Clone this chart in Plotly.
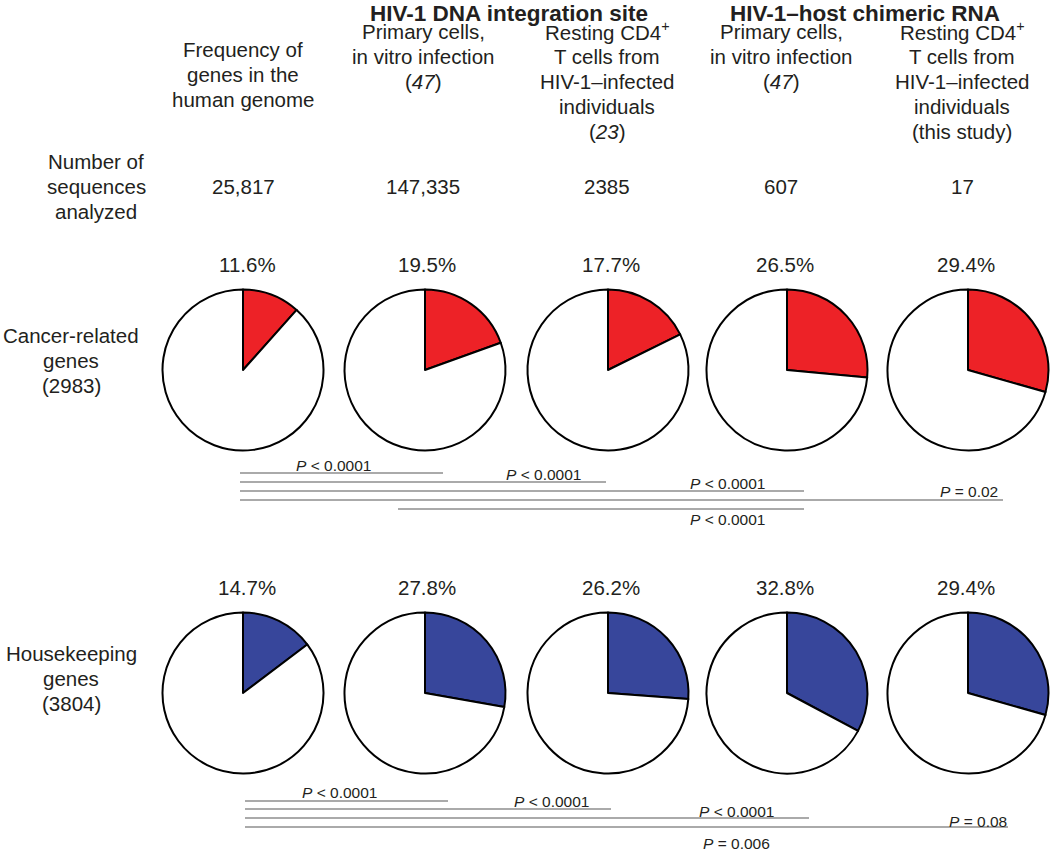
import plotly.graph_objects as go

# ---------------- data ----------------
column_labels = [
    "Frequency of<br>genes in the<br>human genome",
    "Primary cells,<br>in vitro infection<br>(<i>47</i>)",
    "Resting CD4<sup>+</sup><br>T cells from<br>HIV-1–infected<br>individuals<br>(<i>23</i>)",
    "Primary cells,<br>in vitro infection<br>(<i>47</i>)",
    "Resting CD4<sup>+</sup><br>T cells from<br>HIV-1–infected<br>individuals<br>(this study)",
]
group_labels = ["HIV-1 DNA integration site", "HIV-1–host chimeric RNA"]
n_sequences = ["25,817", "147,335", "2385", "607", "17"]
n_label = "Number of<br>sequences<br>analyzed"
row_labels = ["Cancer-related<br>genes<br>(2983)", "Housekeeping<br>genes<br>(3804)"]
cancer_pct = [11.6, 19.5, 17.7, 26.5, 29.4]
housekeeping_pct = [14.7, 27.8, 26.2, 32.8, 29.4]
cancer_p = ["< 0.0001", "< 0.0001", "< 0.0001", "= 0.02", "< 0.0001"]
housekeeping_p = ["< 0.0001", "< 0.0001", "< 0.0001", "= 0.08", "= 0.006"]
comparisons = [(0, 1), (0, 2), (0, 3), (0, 4), (1, 3)]
housekeeping_drawn = [True, True, True, True, False]

# ---------------- layout constants ----------------
W, H = 1050, 852
FONT = "Liberation Sans, Arial, Helvetica, sans-serif"
RED = "#ED2227"
BLUE = "#37469B"
GREY = "#8E8E8E"
TXT = "#231F20"
LINE_H = 25
pie_cx = [243, 425, 608, 787, 968]
text_cx = [243, 423, 607, 781, 962]
pie_cy = [370, 693]
R = 80.5
pct_y = [264, 587]
row_label_x = 71
row_label_top = [335, 653]
col_top = [49, 31, 31, 31, 31]

# comparison line geometry (pixels)
line_start = {0: 240, 1: 398}
line_end = {1: 443, 2: 606, 3: 804, 4: 1003}
line_y = [[473, 482, 491, 500, 509], [801, 809, 818, 827, 836]]
line_dx = [0, 5]
ptext_x = [[333, 543, 727, 969, 727], [339, 551, 736, 978, 736]]
ptext_y = [[465, 474, 483, 491, 519], [792, 801, 811, 821, 843]]

fig = go.Figure()

rows = [(cancer_pct, RED), (housekeeping_pct, BLUE)]
for ri, (vals, col) in enumerate(rows):
    for ci, v in enumerate(vals):
        cx, cy = pie_cx[ci], pie_cy[ri]
        fig.add_trace(go.Pie(
            values=[v, 100 - v],
            sort=False, direction="clockwise", rotation=0,
            marker=dict(colors=[col, "white"], line=dict(color="black", width=2)),
            textinfo="none", hoverinfo="skip", showlegend=False,
            domain=dict(x=[(cx - R) / W, (cx + R) / W],
                        y=[1 - (cy + R) / H, 1 - (cy - R) / H]),
        ))

# comparison lines
p_rows = [cancer_p, housekeeping_p]
drawn = [[True] * 5, housekeeping_drawn]
for ri in range(2):
    for k, (a, b) in enumerate(comparisons):
        if drawn[ri][k]:
            x0 = line_start[a] + line_dx[ri]
            x1 = line_end[b] + line_dx[ri]
            fig.add_trace(go.Scatter(
                x=[x0, x1], y=[line_y[ri][k]] * 2, mode="lines",
                line=dict(color=GREY, width=1.3), hoverinfo="skip", showlegend=False,
                xaxis="x", yaxis="y",
            ))

ann = []
def A(x, y, text, size=20.5, bold=False):
    t = f"<b>{text}</b>" if bold else text
    ann.append(dict(x=x, y=y, xref="x", yref="y", text=t, showarrow=False,
                    font=dict(family=FONT, size=size, color=TXT),
                    xanchor="center", yanchor="middle", align="center"))

def multiline(x, y_top, text, size=20.5):
    for i, part in enumerate(text.split("<br>")):
        A(x, y_top + i * LINE_H, part, size=size)

# group headers
A(509, 13, group_labels[0], size=22.5, bold=True)
A(865, 13, group_labels[1], size=22.5, bold=True)
# column headers
for ci, lab in enumerate(column_labels):
    multiline(text_cx[ci], col_top[ci], lab)
# number of sequences
multiline(96, 161, n_label)
for ci, n in enumerate(n_sequences):
    A(text_cx[ci], 186, n)
# percents and row labels
for ri, (vals, _) in enumerate(rows):
    for ci, v in enumerate(vals):
        A(text_cx[ci] + 4, pct_y[ri], f"{v:.1f}%")
    multiline(row_label_x, row_label_top[ri], row_labels[ri])
# p-value texts
for ri in range(2):
    for k, p in enumerate(p_rows[ri]):
        A(ptext_x[ri][k], ptext_y[ri][k], f"<i>P</i> {p}", size=15.5)

fig.update_layout(
    width=W, height=H, margin=dict(l=0, r=0, t=0, b=0),
    paper_bgcolor="white", plot_bgcolor="rgba(0,0,0,0)",
    xaxis=dict(range=[0, W], visible=False, fixedrange=True, domain=[0, 1]),
    yaxis=dict(range=[H, 0], visible=False, fixedrange=True, domain=[0, 1]),
    annotations=ann,
)
fig.write_html("out.html", config={"displayModeBar": False},
               post_script="document.body.style.margin='0';document.body.style.overflow='hidden';")
